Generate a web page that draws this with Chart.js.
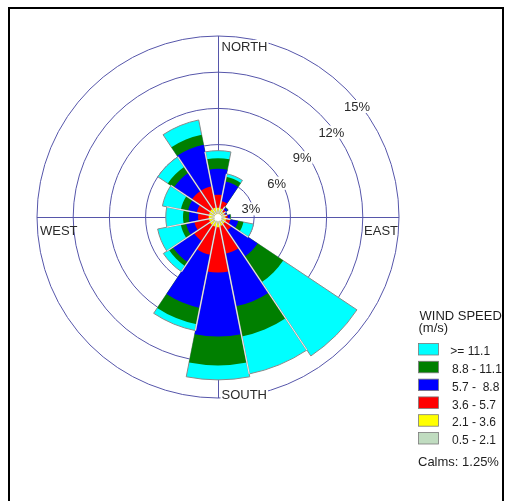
<!DOCTYPE html>
<html>
<head>
<meta charset="utf-8">
<script src="https://cdn.jsdelivr.net/npm/chart.js@4.4.1/dist/chart.umd.min.js"></script>
<style>
html,body{margin:0;padding:0;background:#fff;}
#wrap{position:relative;width:506px;height:501px;overflow:hidden;}
#frame{position:absolute;left:8px;top:7px;width:492px;height:520px;border-left:2px solid #000;border-top:2px solid #000;border-right:2px solid #000;pointer-events:none;}
canvas{position:absolute;left:0;top:0;}
</style>
</head>
<body>
<div id="wrap"><canvas id="c" width="506" height="501"></canvas><div id="frame"></div></div>
<script>
// 16 directions (wind blowing from), clockwise from north
const directions = ['N','NNE','NE','ENE','E','ESE','SE','SSE','S','SSW','SW','WSW','W','WNW','NW','NNW'];
// Wind speed classes (m/s), inner to outer
const speedClasses = ['0.5 - 2.1', '2.1 - 3.6', '3.6 - 5.7', '5.7 -  8.8', '8.8 - 11.1', '>= 11.1'];
const classColors  = ['#c0dcc0', '#ffff00', '#ff0000', '#0000ff', '#007f00', '#00ffff'];
// Frequency (%) of each speed class per direction
const freq_0_5_2_1  = [0.15,0.15,0.12,0.12,0.12,0.15,0.15,0.15,0.15,0.15,0.15,0.15,0.15,0.15,0.15,0.15];
const freq_2_1_3_6  = [0.62,0.58,0.45,0.45,0.50,0.55,0.55,0.62,0.70,0.68,0.66,0.62,0.62,0.62,0.66,0.66];
const freq_3_6_5_7  = [1.08,0.62,0.20,0.10,0.18,0.35,0.65,2.33,3.75,2.37,1.59,1.23,0.88,1.03,1.79,1.79];
const freq_5_7_8_8  = [2.14,1.65,0.20,0.10,0.20,0.65,2.60,4.45,5.30,4.48,2.10,0.70,0.75,0.74,1.80,3.50];
const freq_8_8_11_1 = [0.88,0.40,0.05,0.00,0.05,0.45,2.55,2.55,2.40,1.39,0.40,0.45,0.50,0.60,0.60,0.85];
const freq_ge_11_1  = [0.63,0.25,0.00,0.00,0.00,0.85,7.35,3.16,1.20,0.53,0.55,1.95,1.43,1.56,1.00,1.25];
const radialTicks = [3, 6, 9, 12, 15];
const tickSuffix = '%';
const compassLabels = ['NORTH', 'EAST', 'SOUTH', 'WEST'];
const legendTitle = ['WIND SPEED', '(m/s)'];
const calmsText = 'Calms: 1.25%';

const bands = [freq_0_5_2_1, freq_2_1_3_6, freq_3_6_5_7, freq_5_7_8_8, freq_8_8_11_1, freq_ge_11_1];
// cumulative (stacked) radii
const cumulative = [];
bands.forEach((b, k) => {
  cumulative.push(b.map((v, i) => (k === 0 ? 0 : cumulative[k - 1][i]) + v));
});
const totals = cumulative[cumulative.length - 1];

const gridColor = '#5656aa';
const FONT = '"Liberation Sans", Arial, sans-serif';

const datasets = cumulative.map((vals, k) => ({
  label: speedClasses[k],
  data: vals,
  backgroundColor: classColors[k],
  borderWidth: k === cumulative.length - 1 ? 1 : 0,
  borderColor: '#8a8a8a'
}));

const decor = {
  id: 'decor',
  beforeDatasetsDraw(chart) {
    const s = chart.scales.r, ctx = chart.ctx, R = s.drawingArea;
    ctx.save();
    ctx.strokeStyle = gridColor; ctx.lineWidth = 1;
    ctx.beginPath();
    ctx.moveTo(s.xCenter + 0.5, s.yCenter - R); ctx.lineTo(s.xCenter + 0.5, s.yCenter + R);
    ctx.moveTo(s.xCenter - R, s.yCenter + 0.5); ctx.lineTo(s.xCenter + R, s.yCenter + 0.5);
    ctx.stroke();
    ctx.restore();
  },
  afterDatasetsDraw(chart) {
    const s = chart.scales.r, ctx = chart.ctx, R = s.drawingArea;
    const cx = s.xCenter, cy = s.yCenter;
    ctx.save();
    // petal separators
    const n = directions.length;
    const r0 = 3.5;
    for (let i = 0; i < n; i++) {
      const prev = (i + n - 1) % n;
      const d = s.getDistanceFromCenterForValue(Math.min(totals[prev], totals[i]));
      const p = s.getPointPosition(i, d);
      const q = s.getPointPosition(i, r0);
      ctx.beginPath(); ctx.moveTo(q.x, q.y); ctx.lineTo(p.x, p.y);
      ctx.strokeStyle = '#9a9a9a'; ctx.lineWidth = 1.6; ctx.stroke();
      ctx.beginPath(); ctx.moveTo(q.x, q.y); ctx.lineTo(p.x, p.y);
      ctx.strokeStyle = '#ffffff'; ctx.lineWidth = 0.8; ctx.stroke();
    }
    // calm centre
    ctx.beginPath(); ctx.arc(cx, cy + 0.5, 3.5, 0, Math.PI * 2);
    ctx.fillStyle = '#ffffff'; ctx.fill();

    // tick labels along 45 deg
    ctx.font = '13px ' + FONT;
    ctx.textBaseline = 'alphabetic'; ctx.textAlign = 'left';
    radialTicks.forEach(v => {
      const d = s.getDistanceFromCenterForValue(v);
      const ax = cx + d * Math.SQRT1_2, ay = cy - d * Math.SQRT1_2;
      const txt = v + tickSuffix;
      const w = ctx.measureText(txt).width;
      const x = ax - 2, y = ay + 22;
      ctx.fillStyle = '#ffffff'; ctx.fillRect(x - 1, y - 11, w + 2, 13);
      ctx.fillStyle = '#2a2a2a'; ctx.fillText(txt, x, y);
    });
    // compass labels
    const drawLab = (txt, x, y, align, box) => {
      ctx.textAlign = align;
      const w = ctx.measureText(txt).width;
      if (box) { ctx.fillStyle = '#ffffff'; ctx.fillRect(x - 1, y - 11, w + 2, 13); }
      ctx.fillStyle = '#2a2a2a'; ctx.fillText(txt, x, y);
    };
    drawLab(compassLabels[0], cx + 3.5, cy - R + 15, 'left', true);
    drawLab(compassLabels[2], cx + 3.5, cy + R + 0.5, 'left', true);
    drawLab(compassLabels[3], cx - R + 3, cy + 18, 'left', false);
    drawLab(compassLabels[1], cx + R - 1, cy + 18, 'right', false);
    ctx.restore();
  },
  afterDraw(chart) {
    const ctx = chart.ctx;
    ctx.save();
    ctx.fillStyle = '#1e1e1e';
    ctx.textAlign = 'left'; ctx.textBaseline = 'alphabetic';
    ctx.font = '13px ' + FONT;
    ctx.fillText(legendTitle[0], 419.5, 320);
    ctx.fillText(legendTitle[1], 418.5, 331.5);
    const k = speedClasses.length;
    for (let j = 0; j < k; j++) {
      const idx = k - 1 - j;
      const top = 343.5 + j * 17.8;
      ctx.fillStyle = classColors[idx];
      ctx.fillRect(418.5, top, 20, 11.5);
      ctx.strokeStyle = '#7a7a7a'; ctx.lineWidth = 0.8;
      ctx.strokeRect(418.5, top, 20, 11.5);
      ctx.fillStyle = '#1e1e1e';
      ctx.font = '12px ' + FONT;
      ctx.fillText(speedClasses[idx], j === 0 ? 450.3 : 452, top + 11.6);
    }
    ctx.font = '13px ' + FONT;
    ctx.fillText(calmsText, 418, 466);
    ctx.restore();
  }
};

new Chart(document.getElementById('c'), {
  type: 'polarArea',
  data: { labels: directions, datasets },
  options: {
    responsive: false,
    animation: false,
    devicePixelRatio: 1,
    layout: { padding: { left: 37, top: 36, right: 107, bottom: 103 } },
    plugins: { legend: { display: false }, tooltip: { enabled: false } },
    scales: {
      r: {
        min: 0, max: 15,
        startAngle: -11.25,
        ticks: { display: false, stepSize: 3 },
        grid: { color: gridColor, lineWidth: 1 },
        angleLines: { display: false },
        pointLabels: { display: false }
      }
    }
  },
  plugins: [decor]
});
</script>
</body>
</html>
